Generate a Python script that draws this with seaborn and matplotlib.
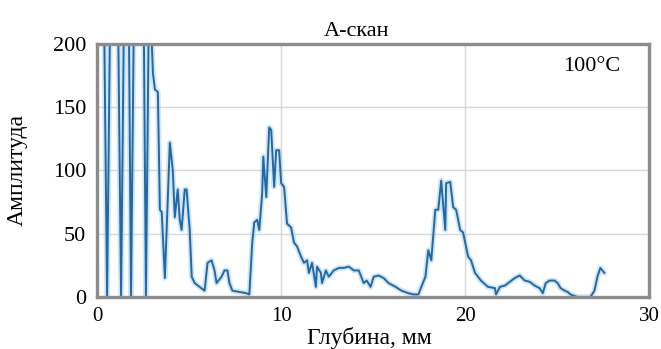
import matplotlib
matplotlib.use("Agg")
import matplotlib.pyplot as plt
import numpy as np
import pandas as pd
import seaborn as sns

# A-scan trace (depth in mm, amplitude)
depth = [
    0.00, 0.32, 0.54, 0.76, 1.08, 1.30, 1.51, 1.68, 1.84, 2.05, 2.49, 2.65, 2.86,
    2.97, 3.03, 3.14, 3.30, 3.41, 3.51, 3.68, 3.95, 4.11, 4.22, 4.38, 4.49, 4.59,
    4.76, 4.86, 5.03, 5.14, 5.30, 5.57, 5.84, 6.00, 6.22, 6.38, 6.49, 6.76, 6.92,
    7.08, 7.19, 7.35, 7.73, 8.11, 8.27, 8.43, 8.54, 8.70, 8.81, 8.97, 9.03, 9.19,
    9.35, 9.46, 9.62, 9.73, 9.89, 10.00, 10.16, 10.32, 10.54, 10.70, 10.86, 11.08,
    11.24, 11.41, 11.51, 11.68, 11.89, 11.95, 12.16, 12.22, 12.43, 12.59, 12.86,
    13.14, 13.41, 13.68, 13.95, 14.22, 14.49, 14.65, 14.86, 15.03, 15.30, 15.57,
    15.84, 16.22, 16.54, 16.92, 17.19, 17.46, 17.62, 17.84, 18.00, 18.16, 18.38,
    18.54, 18.70, 18.92, 18.97, 19.19, 19.35, 19.51, 19.73, 19.89, 20.16, 20.32,
    20.54, 20.86, 21.24, 21.62, 21.68, 21.89, 22.16, 22.43, 22.70, 22.97, 23.24,
    23.51, 23.78, 24.05, 24.22, 24.38, 24.59, 24.86, 25.03, 25.19, 25.41, 25.57,
    25.73, 26.11, 26.81, 27.03, 27.19, 27.35, 27.57,
]
amplitude = [
    300, 300, 0, 300, 300, 0, 300, 300, 0, 300, 300, 0, 300,
    200, 177, 164, 162, 69, 67, 15, 122, 100, 63, 85, 61, 53,
    85, 85, 53, 16, 11, 8, 5, 27, 29, 21, 11, 16, 21,
    21, 11, 5, 4, 3, 2, 43, 59, 61, 53, 82, 111, 79,
    134, 132, 87, 116, 116, 90, 87, 58, 55, 43, 40, 32,
    27, 29, 19, 27, 8, 24, 19, 11, 21, 16, 21,
    23, 23, 24, 21, 21, 11, 13, 8, 16, 17, 15,
    11, 8, 5, 3, 2, 2, 8, 16, 37, 29, 69,
    69, 92, 53, 90, 91, 71, 69, 53, 51, 32, 29,
    19, 13, 8, 7, 2, 8, 9, 12, 15, 17, 13,
    12, 9, 7, 3, 11, 13, 13, 11, 7, 5,
    4, 2, 0, 0, 5, 16, 23, 19,
]
x_ticks = [0, 10, 20, 30]
y_ticks = [0, 50, 100, 150, 200]

df = pd.DataFrame({"depth": depth, "amp": amplitude})

sns.set_style("white")
plt.rcParams["font.family"] = ["Liberation Serif", "DejaVu Serif"]
plt.rcParams["text.color"] = "black"
plt.rcParams["axes.labelcolor"] = "black"
plt.rcParams["xtick.labelcolor"] = "black"
plt.rcParams["ytick.labelcolor"] = "black"

fig = plt.figure(figsize=(6.61, 3.49), dpi=100)
ax = fig.add_axes([0.147, 0.149, 0.835, 0.725])

# soft halo under the trace, like the blurred original
sns.lineplot(data=df, x="depth", y="amp", ax=ax, sort=False, estimator=None,
             color="#a8cde9", linewidth=4, alpha=0.5)
sns.lineplot(data=df, x="depth", y="amp", ax=ax, sort=False, estimator=None,
             color="#1f6aa6", linewidth=1.4)

ax.set_xlim(0, 30)
ax.set_ylim(0, 200)
ax.set_xticks(x_ticks)
ax.set_yticks(y_ticks)
ax.grid(True, color="#d8d8d8", linewidth=1.0)
ax.set_axisbelow(True)
for s in ax.spines.values():
    s.set_color("#8c8c8c")
    s.set_linewidth(2.4)
ax.tick_params(axis="both", length=3, width=1, color="#555555", direction="in")
ax.tick_params(axis="x", labelsize=15, pad=7)
ax.tick_params(axis="y", labelsize=16, pad=8)

ax.set_xlabel("Глубина, мм", fontsize=17)
ax.xaxis.set_label_coords(0.493, -0.12)
ax.set_ylabel("Амплитуда", fontsize=17)
ax.yaxis.set_label_coords(-0.125, 0.5)
ax.set_title("А-скан", fontsize=16, x=0.47, pad=6)
ax.text(0.948, 0.95, "100°C", transform=ax.transAxes, ha="right", va="top",
        fontsize=16)

fig.savefig("out.png", dpi=100)
plt.close("all")
